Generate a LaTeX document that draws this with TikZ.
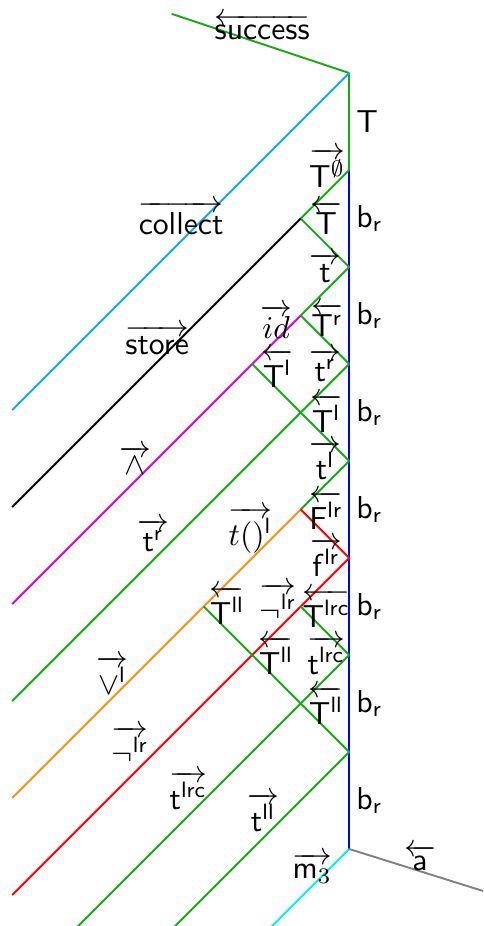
\documentclass[tikz,border=0pt]{standalone}
\usepackage{amsmath}
\usepackage{amssymb}
\usepackage{tikz}
\usetikzlibrary{positioning, calc}
\definecolor{grn}{RGB}{20,170,20}
\definecolor{sky}{RGB}{20,170,230}
\definecolor{orng}{RGB}{255,140,20}
\definecolor{cyn}{RGB}{0,240,240}
\definecolor{mgn}{RGB}{220,0,220}
\definecolor{blu}{RGB}{0,0,255}
\definecolor{rd}{RGB}{255,0,0}

\begin{document}
\begin{tikzpicture}[
		x=1.075cm, y=1.075cm,
		wire/.style = {semithick},
		lbl/.style = {inner sep=1pt, text=black},
		br/.style = {right, inner sep=2pt, text=black}
		]
		\useasboundingbox (-3.6,1.753) rectangle (1.381,-7.794);
		
		\coordinate (top) at (0,1);
		\coordinate (v0) at (0,0);
		\coordinate (v1) at (0,-1);
		\coordinate (v2) at (0,-2);
		\coordinate (v3) at (0,-3);
		\coordinate (v4) at (0,-4);
		\coordinate (v5) at (0,-5);
		\coordinate (v6) at (0,-6);
		\coordinate (v7) at (0,-7);
		
		\coordinate (p0) at (-0.5,-0.5);
		\coordinate (p1) at (-0.5,-1.5);
		\coordinate (q1) at (-1,-2);
		\coordinate (p3) at (-0.5,-3.5);
		\coordinate (q3) at (-1.5,-4.5);
		\coordinate (p4) at (-0.5,-4.5);
		
		\coordinate (succ_end) at (-1.83,1.61);
		\coordinate (coll_end) at (-3.474,-2.474);
		\coordinate (store_end) at (-3.474,-3.474);
		\coordinate (id_end) at (-3.474,-4.474);
		\coordinate (tr_end) at (-3.474,-5.474);
		\coordinate (or_end) at (-3.474,-6.474);
		\coordinate (not_end) at (-3.474,-7.474);
		\coordinate (lrc_end) at (-2.83,-7.83);
		\coordinate (ll_end) at (-1.83,-7.83);
		\coordinate (m_end) at (-0.83,-7.83);
		\coordinate (a_end) at (1.381,-7.433);
		
		\draw [wire, grn] (top) -- (succ_end);
		\draw [wire, grn] (top) -- node[br, name=t_top] {$\mathsf{T}$} (v0);
		\draw [wire, sky] (top) -- (coll_end);
		
		\draw [wire, blu] (v0) -- node[br] {$\mathsf{b_r}$} (v1)
			-- node[br] {$\mathsf{b_r}$} (v2)
			-- node[br] {$\mathsf{b_r}$} (v3)
			-- node[br] {$\mathsf{b_r}$} (v4)
			-- node[br] {$\mathsf{b_r}$} (v5)
			-- node[br] {$\mathsf{b_r}$} (v6)
			-- node[br] {$\mathsf{b_r}$} (v7);
		
		\draw [wire, grn] (v0) -- (p0) -- (v1) -- (p1) -- (v2);
		\draw [wire, black] (p0) -- (store_end);
		\draw [wire, mgn] (p1) -- (id_end);
		\draw [wire, grn] (q1) -- (v3);
		\draw [wire, grn] (v2) -- (tr_end);
		\draw [wire, grn] (v3) -- (p3);
		\draw [wire, orng] (p3) -- (or_end);
		\draw [wire, rd] (p3) -- (v4) -- (not_end);
		\draw [wire, grn] (p4) -- (v5);
		\draw [wire, grn] (q3) -- (v6);
		\draw [wire, grn] (v5) -- (lrc_end);
		\draw [wire, grn] (v6) -- (ll_end);
		\draw [wire, cyn] (v7) -- (m_end);
		\draw [wire, gray] (v7) -- (a_end);
		
		\node [lbl] (success) at (-0.897,1.48) {$\overleftarrow{\mathsf{success}}$};
		\node [lbl] (tempty) at (-0.227,0.02) {$\overrightarrow{\mathsf{T}^{\emptyset}}$};
		\node [lbl] (collect) at (-1.732,-0.495) {$\overrightarrow{\mathsf{collect}}$};
		\node [lbl] (T0) at (-0.237,-0.495) {$\overleftarrow{\mathsf{T}}$};
		\node [lbl] (t0) at (-0.247,-1.01) {$\overrightarrow{\mathsf{t}}$};
		\node [lbl] (store) at (-1.98,-1.75) {$\overrightarrow{\mathsf{store}}$};
		\node [lbl] (id) at (-0.753,-1.567) {$\overrightarrow{id}$};
		\node [lbl] (Tr) at (-0.227,-1.546) {$\overleftarrow{\mathsf{T}^{\mathsf{r}}}$};
		\node [lbl] (Tl_a) at (-0.742,-2.04) {$\overleftarrow{\mathsf{T}^{\mathsf{l}}}$};
		\node [lbl] (tr_a) at (-0.247,-2.01) {$\overrightarrow{\mathsf{t}^{\mathsf{r}}}$};
		\node [lbl] (Tl_b) at (-0.237,-2.505) {$\overleftarrow{\mathsf{T}^{\mathsf{l}}}$};
		\node [lbl] (and) at (-2.206,-2.99) {$\overrightarrow{\wedge}$};
		\node [lbl] (tl) at (-0.247,-2.99) {$\overrightarrow{\mathsf{t}^{\mathsf{l}}}$};
		\node [lbl] (tr_b) at (-2.02,-3.763) {$\overrightarrow{\mathsf{t}^{\mathsf{r}}}$};
		\node [lbl] (tfun) at (-1.02,-3.71) {$\overrightarrow{t()^{\mathsf{l}}}$};
		\node [lbl] (Flr) at (-0.237,-3.505) {$\overleftarrow{\mathsf{F}^{\mathsf{lr}}}$};
		\node [lbl] (flr) at (-0.237,-3.99) {$\overrightarrow{\mathsf{f}^{\mathsf{lr}}}$};
		\node [lbl] (Tll_a) at (-1.258,-4.485) {$\overleftarrow{\mathsf{T}^{\mathsf{ll}}}$};
		\node [lbl] (not_a) at (-0.732,-4.454) {$\overrightarrow{\neg^{\mathsf{lr}}}$};
		\node [lbl] (Tlrc) at (-0.237,-4.515) {$\overleftarrow{\mathsf{T}^{\mathsf{lrc}}}$};
		\node [lbl] (Tll_b) at (-0.753,-5.0) {$\overleftarrow{\mathsf{T}^{\mathsf{ll}}}$};
		\node [lbl] (tlrc_a) at (-0.237,-5.0) {$\overrightarrow{\mathsf{t}^{\mathsf{lrc}}}$};
		\node [lbl] (or) at (-2.443,-5.206) {$\overrightarrow{\vee^{\mathsf{l}}}$};
		\node [lbl] (Tll_c) at (-0.237,-5.515) {$\overleftarrow{\mathsf{T}^{\mathsf{ll}}}$};
		\node [lbl] (not_b) at (-2.258,-5.928) {$\overrightarrow{\neg^{\mathsf{lr}}}$};
		\node [lbl] (tlrc_b) at (-1.66,-6.39) {$\overrightarrow{\mathsf{t}^{\mathsf{lrc}}}$};
		\node [lbl] (tll) at (-0.887,-6.62) {$\overrightarrow{\mathsf{t}^{\mathsf{ll}}}$};
		\node [lbl] (m3) at (-0.381,-7.196) {$\overrightarrow{\mathsf{m}_3}$};
		\node [lbl] (a) at (0.732,-7.093) {$\overleftarrow{\mathsf{a}}$};
		
	\end{tikzpicture}
\end{document}
